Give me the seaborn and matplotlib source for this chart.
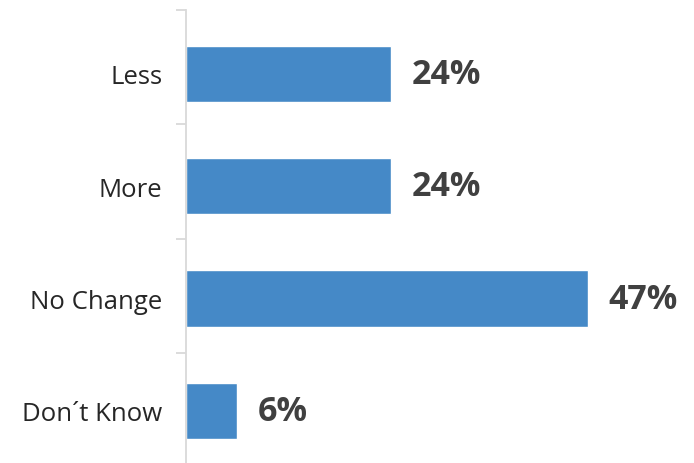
import matplotlib
matplotlib.use("Agg")
import matplotlib.pyplot as plt
import seaborn as sns
import pandas as pd
from matplotlib.ticker import FixedLocator

categories = ["Less", "More", "No Change", "Don\u00b4t Know"]
values = [24, 24, 47, 6]

sns.set_style("white")
plt.rcParams["font.family"] = ["Open Sans", "DejaVu Sans"]

df = pd.DataFrame({"answer": categories, "share": values})

fig = plt.figure(figsize=(6.94, 4.64), dpi=100)
ax = fig.add_axes([0.268, -0.0086, 0.727, 0.985])

sns.barplot(data=df, x="share", y="answer", orient="h", color="#4589C7",
            saturation=1, width=0.5, ax=ax)

ax.set_xlim(0, 59)
ax.set_ylim(3.5, -0.57)
ax.set_xlabel("")
ax.set_ylabel("")
ax.set_xticks([])

for s in ["top", "right", "bottom"]:
    ax.spines[s].set_visible(False)
ax.spines["left"].set_color("#d9d9d9")
ax.spines["left"].set_linewidth(1.3)

# separators between the category bands
ax.yaxis.set_minor_locator(FixedLocator([-0.57, 0.448, 1.472, 2.487]))
ax.tick_params(axis="y", which="major", length=0, pad=17, labelsize=18.5,
               labelcolor="#262626")
ax.tick_params(axis="y", which="minor", length=7.5, width=1.3,
               color="#d9d9d9", left=True)

for i, v in enumerate(values):
    ax.annotate(f"{v}%", xy=(v, i), xytext=(15, 0), textcoords="offset points",
                ha="left", va="center", fontsize=24.5, fontweight="bold",
                color="#404040")

fig.savefig("out.png", dpi=100)
